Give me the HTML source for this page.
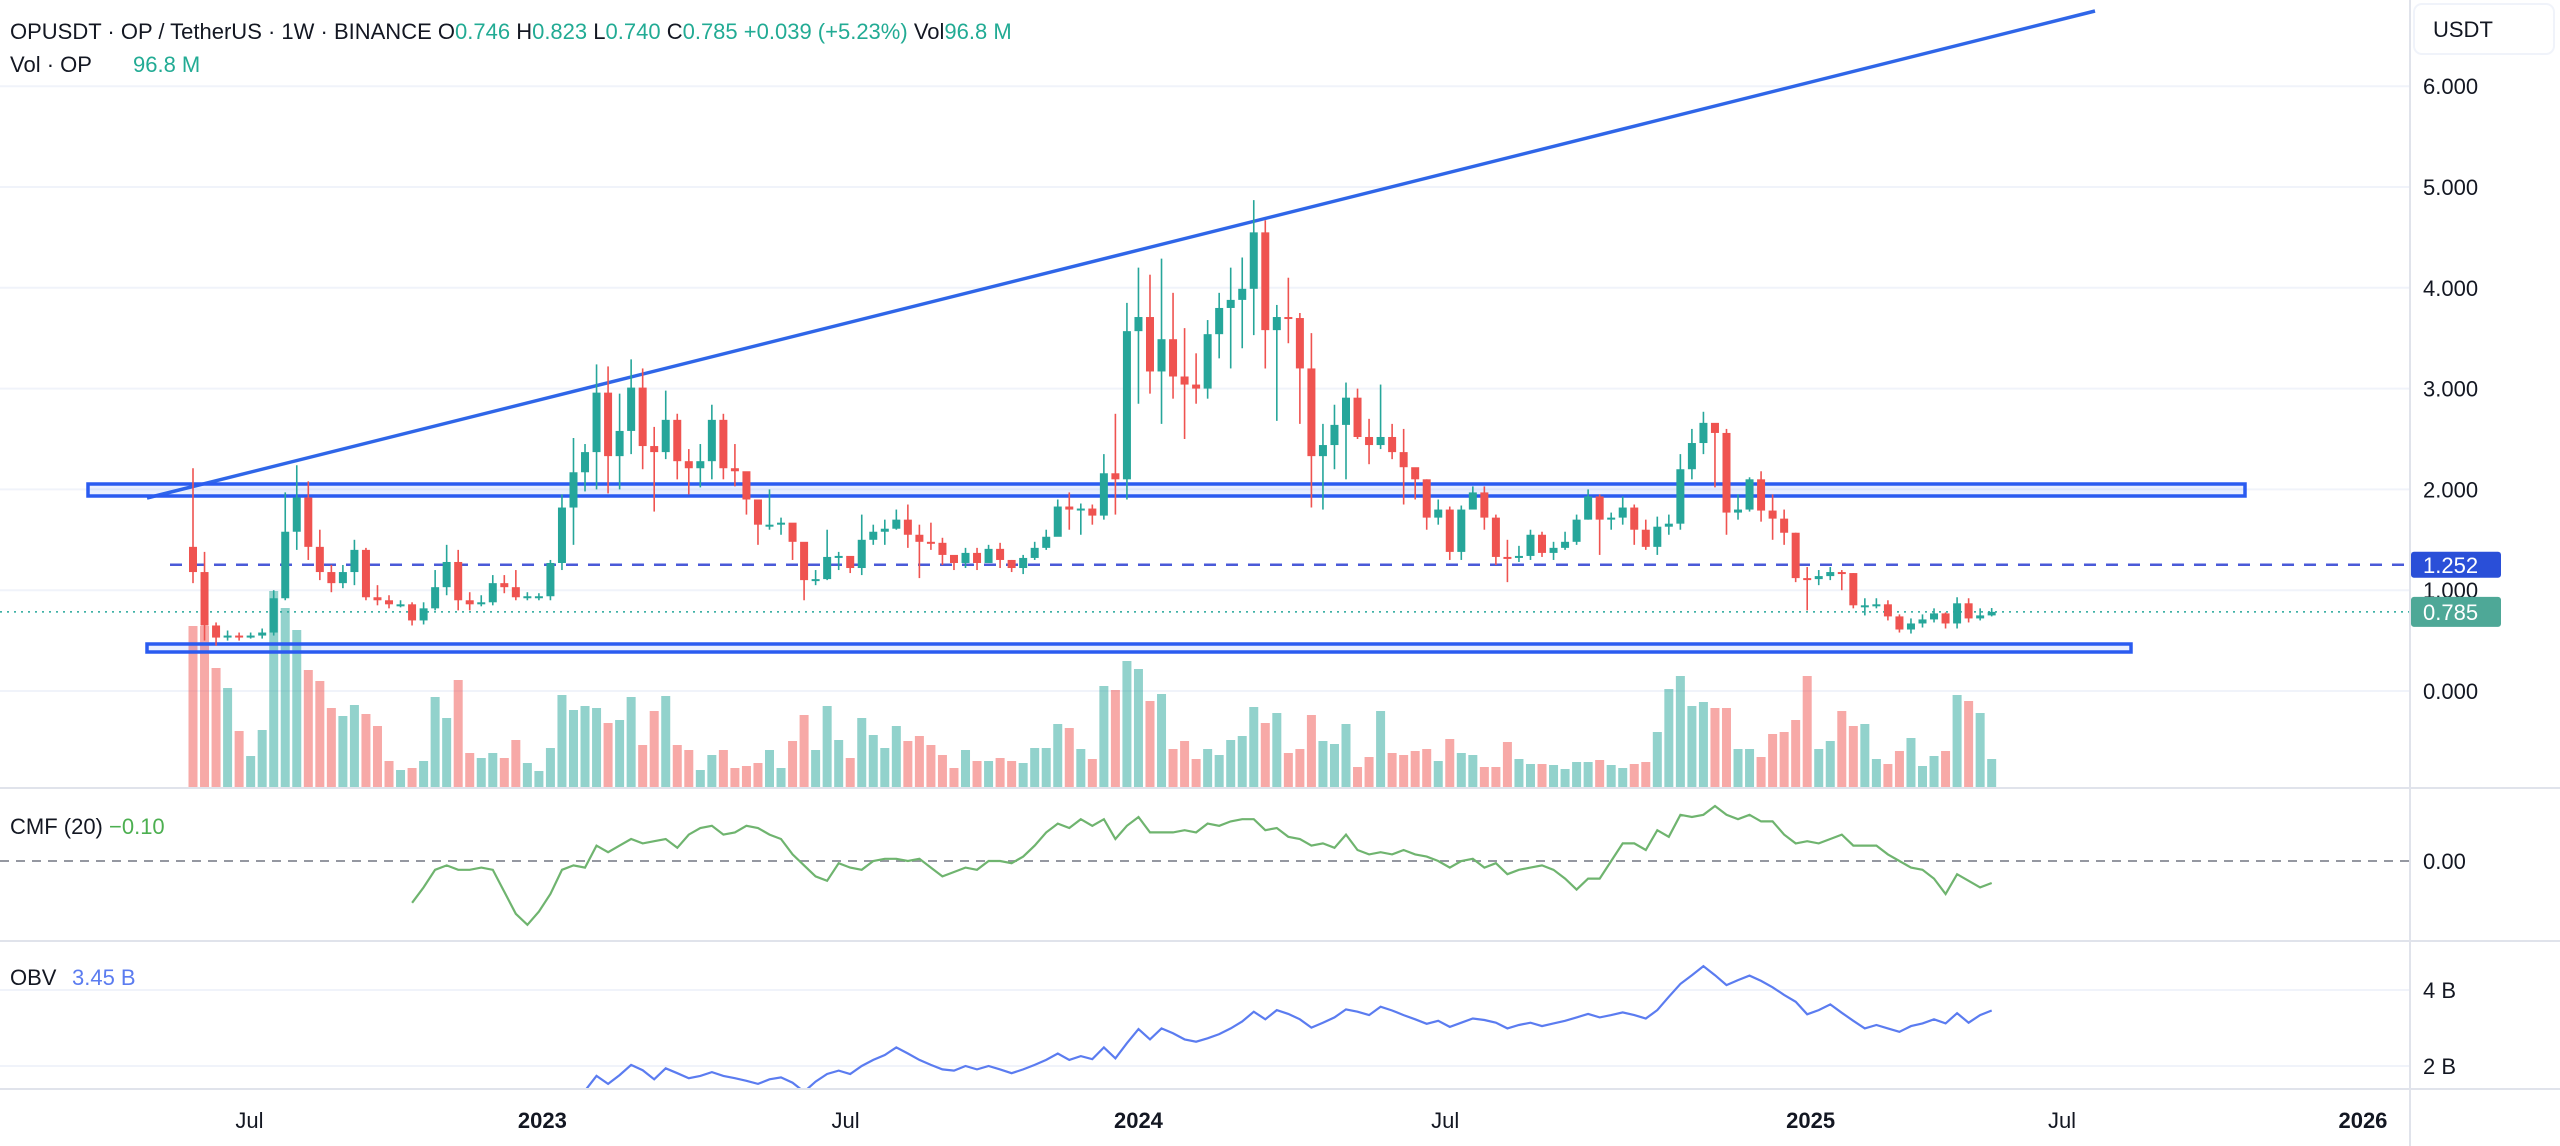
<!DOCTYPE html>
<html><head><meta charset="utf-8"><style>
html,body{margin:0;padding:0;background:#fff;width:2560px;height:1146px;overflow:hidden}
svg text{font-family:"Liberation Sans",sans-serif}
</style></head><body>
<svg id="chart" xmlns="http://www.w3.org/2000/svg" width="2560" height="1146" viewBox="0 0 2560 1146">
<defs>
<clipPath id="mainClip"><rect x="0" y="0" width="2410" height="788"/></clipPath>
<clipPath id="cmfClip"><rect x="0" y="789" width="2410" height="152"/></clipPath>
<clipPath id="obvClip"><rect x="0" y="942" width="2410" height="147"/></clipPath>
</defs>
<g id="grid"></g>
<g id="vol" clip-path="url(#mainClip)"></g>
<g id="draw"></g>
<g id="candles" clip-path="url(#mainClip)"></g>
<g id="ind"></g>
<g id="axes"></g>
<g id="labels">
<text x="10" y="39" font-size="22" fill="#131722">OPUSDT · OP / TetherUS · 1W · BINANCE <tspan fill="#131722">O</tspan><tspan fill="#22ab94">0.746</tspan> <tspan fill="#131722">H</tspan><tspan fill="#22ab94">0.823</tspan> <tspan fill="#131722">L</tspan><tspan fill="#22ab94">0.740</tspan> <tspan fill="#131722">C</tspan><tspan fill="#22ab94">0.785</tspan> <tspan fill="#22ab94">+0.039 (+5.23%)</tspan> <tspan fill="#131722">Vol</tspan><tspan fill="#22ab94">96.8 M</tspan></text>
<text x="10" y="72" font-size="22" fill="#131722">Vol · OP <tspan x="133" fill="#22ab94">96.8 M</tspan></text>
<text x="10" y="834" font-size="22" fill="#131722">CMF (20) <tspan fill="#4caf50">−0.10</tspan></text>
<text x="10" y="985" font-size="22" fill="#131722">OBV <tspan x="72" fill="#5b7cf0">3.45 B</tspan></text>
</g>
</svg>
<script>
const closes=[1.18,0.65,0.53,0.55,0.54,0.55,0.58,0.92,1.58,1.92,
1.43,1.18,1.07,1.18,1.40,0.93,0.90,0.86,0.86,0.70,
0.82,1.03,1.28,0.90,0.86,0.88,1.07,1.03,0.93,0.94,
0.94,1.27,1.82,2.17,2.37,2.96,2.33,2.58,3.01,2.43,
2.37,2.69,2.28,2.21,2.28,2.69,2.21,2.18,1.90,1.65,
1.65,1.67,1.48,1.10,1.11,1.33,1.34,1.22,1.50,1.58,
1.61,1.70,1.55,1.48,1.47,1.35,1.27,1.37,1.27,1.41,
1.30,1.22,1.32,1.42,1.53,1.83,1.80,1.81,1.74,2.16,
2.10,3.57,3.71,3.17,3.49,3.12,3.04,3.00,3.54,3.80,
3.88,3.99,4.55,3.58,3.71,3.70,3.20,2.33,2.44,2.64,
2.91,2.52,2.44,2.52,2.37,2.22,2.10,1.72,1.80,1.38,
1.80,1.97,1.72,1.33,1.32,1.34,1.55,1.37,1.42,1.48,
1.70,1.93,1.70,1.72,1.82,1.60,1.43,1.63,1.66,2.20,
2.46,2.66,2.56,1.77,1.80,2.10,1.79,1.71,1.57,1.12,
1.11,1.14,1.18,1.17,0.85,0.85,0.86,0.74,0.61,0.67,
0.71,0.77,0.67,0.87,0.72,0.75,0.785];
const firstOpen=1.43;
const highs=[2.21,1.38,0.68,0.60,0.58,0.58,0.62,1.0,1.97,2.24,
2.08,1.6,1.25,1.25,1.5,1.42,1.05,0.95,0.9,0.88,
0.88,1.2,1.45,1.4,0.98,0.95,1.15,1.15,1.2,0.98,
0.97,1.3,1.95,2.51,2.45,3.24,3.22,2.95,3.29,3.2,
2.62,2.98,2.75,2.4,2.45,2.84,2.75,2.45,2.0,1.75,
2.0,1.72,1.55,1.25,1.2,1.6,1.38,1.3,1.75,1.65,
1.7,1.8,1.85,1.65,1.67,1.52,1.33,1.42,1.42,1.45,
1.47,1.3,1.35,1.48,1.6,1.9,1.97,1.86,1.85,2.35,
2.75,3.85,4.2,4.13,4.29,3.95,3.6,3.35,3.68,3.95,
4.2,4.3,4.87,4.67,3.83,4.1,3.75,3.55,2.65,2.84,
3.06,3.0,2.7,3.04,2.65,2.6,2.2,2.1,1.9,1.83,
1.84,2.03,2.03,1.75,1.5,1.44,1.6,1.58,1.48,1.58,
1.75,2.0,1.95,1.77,1.93,1.85,1.7,1.73,1.75,2.35,
2.6,2.77,2.62,2.6,1.95,2.12,2.18,1.95,1.8,1.57,
1.23,1.2,1.23,1.2,1.17,0.92,0.92,0.9,0.76,0.72,
0.76,0.82,0.78,0.93,0.92,0.82,0.823];
const lows=[1.07,0.5,0.45,0.5,0.5,0.52,0.52,0.55,0.9,1.4,
1.3,1.1,0.98,1.02,1.05,0.9,0.85,0.82,0.83,0.65,
0.66,0.8,0.95,0.8,0.8,0.84,0.85,0.97,0.9,0.9,
0.9,0.9,1.2,1.45,1.98,2.0,1.96,2.0,2.35,2.2,
1.78,2.3,2.1,1.95,2.02,2.1,2.1,2.03,1.75,1.45,
1.6,1.55,1.3,0.9,1.05,1.1,1.2,1.17,1.15,1.45,
1.45,1.6,1.42,1.12,1.4,1.25,1.2,1.22,1.2,1.27,
1.22,1.18,1.16,1.3,1.4,1.55,1.6,1.55,1.65,1.7,
1.75,1.9,2.85,2.95,2.65,2.9,2.5,2.85,2.9,3.3,
3.2,3.4,3.53,3.2,2.68,3.45,2.65,1.82,1.8,2.2,
2.1,2.5,2.25,2.4,2.3,1.85,1.9,1.6,1.65,1.3,
1.3,1.85,1.6,1.25,1.08,1.28,1.3,1.33,1.3,1.4,
1.45,1.7,1.35,1.6,1.65,1.45,1.4,1.35,1.55,1.6,
2.1,2.35,2.02,1.55,1.7,1.78,1.68,1.5,1.45,1.08,
0.8,1.05,1.1,1.0,0.82,0.75,0.82,0.7,0.58,0.57,
0.63,0.68,0.62,0.62,0.68,0.7,0.74];
const volumes=[162,162,120,100,57,32,58,197,180,158,
118,107,80,72,83,74,62,27,18,20,
27,91,70,108,35,30,35,30,48,25,
17,40,93,78,82,80,65,68,91,43,
77,92,43,38,18,33,38,20,22,25,
38,20,47,73,38,82,48,30,70,53,
40,62,47,52,43,33,20,38,27,27,
30,27,25,40,40,
64,60,39,29,102,98,127,119,87,94,
39,47,29,39,33,48,52,81,65,75,
35,39,73,47,44,64,21,31,77,35,
33,37,39,27,49,35,33,21,21,46,
29,24,24,23,19,26,26,28,23,20,
24,26,56,99,112,82,86,80,80,39,
39,31,54,56,68,112,39,47,77,62,
64,29,24,37,50,22,32,37,93,87,75,29];
const cmfStart=20;
const cmfValues=[-0.19,-0.12,-0.04,-0.02,-0.04,-0.04,-0.03,-0.04,-0.14,-0.24,
-0.29,-0.23,-0.15,-0.04,-0.02,-0.03,0.07,0.04,0.07,0.10,
0.08,0.09,0.10,0.06,0.12,0.15,0.16,0.12,0.13,0.16,
0.15,0.12,0.10,0.03,-0.02,-0.07,-0.09,-0.01,-0.03,-0.04,
0.00,0.01,0.01,0.00,0.01,-0.03,-0.07,-0.05,-0.03,-0.04,
0.00,0.00,-0.01,0.02,0.07,0.13,0.17,0.15,0.19,0.16,
0.19,0.10,0.16,0.20,0.13,0.13,0.13,0.14,0.13,
0.17,0.16,0.18,0.19,0.19,0.14,0.15,0.11,0.10,0.07,
0.08,0.06,0.12,0.05,0.03,0.04,0.03,0.05,0.03,0.02,
0.00,-0.03,0.00,0.01,-0.03,-0.01,-0.06,-0.04,-0.03,-0.02,
-0.04,-0.08,-0.13,-0.08,-0.08,0.00,0.08,0.08,0.05,0.14,
0.11,0.21,0.20,0.21,0.25,0.21,0.19,0.21,0.18,0.18,
0.12,0.08,0.09,0.08,0.10,0.12,0.07,0.07,0.07,0.03,
0.00,-0.03,-0.04,-0.08,-0.15,-0.06,-0.09,-0.12,-0.10];
const obvValues=[0.2,-0.1,-0.4,-0.3,-0.35,-0.3,-0.2,0.5,1.0,1.35,
1.0,0.8,0.6,0.5,0.6,0.5,0.4,0.35,0.3,0.28,
0.25,0.4,0.5,0.3,0.25,0.3,0.4,0.35,0.3,0.3,
0.3,0.5,0.9,1.1,
1.35,1.74,1.53,1.76,2.03,1.89,1.65,1.94,1.81,1.68,
1.74,1.84,1.74,1.68,1.61,1.53,1.65,1.70,1.56,1.32,
1.59,1.79,1.88,1.79,2.0,2.16,2.29,2.49,2.33,2.16,
2.03,1.91,1.88,2.0,1.91,2.0,1.91,1.81,1.91,2.03,
2.16,2.33,2.16,2.26,2.18,2.49,2.20,2.60,2.97,2.70,
2.99,2.86,2.70,2.64,
2.73,2.84,2.99,3.17,3.43,3.23,3.47,3.37,3.23,3.01,
3.14,3.28,3.49,3.43,3.34,3.56,3.46,3.34,3.23,3.11,
3.19,3.03,3.14,3.25,3.21,3.14,2.99,3.08,3.14,3.05,
3.12,3.19,3.28,3.37,3.28,3.34,3.41,3.34,3.25,3.47,
3.82,4.16,4.39,4.63,4.39,4.13,4.26,4.38,4.24,4.07,
3.87,3.69,3.36,3.47,3.62,3.40,3.19,2.99,3.08,2.99,
2.90,3.05,3.12,3.23,3.12,3.39,3.14,3.34,3.46];
const priceTicks=[0,1,2,3,4,5,6];
const priceTickLabels=["0.000","1.000","2.000","3.000","4.000","5.000","6.000"];
const obvTicks=[2,4];
const obvTickLabels=["2 B","4 B"];
const timeLabels=["Jul","2023","Jul","2024","Jul","2025","Jul","2026"];
const timeLabelWeeks=[4.9,30.3,56.6,82.0,108.6,140.3,162.1,188.2];
const timeLabelBold=[false,true,false,true,false,true,false,true];
const lastPrice=0.785, lineLevel=1.252;

const NS="http://www.w3.org/2000/svg";
const X0=193, DX=11.53;
const xAt=i=>X0+i*DX;
const yP=p=>691-p*100.8;
const yV=v=>788-v*1.0;
const yC=v=>861-v*220;
const yO=b=>990-(b-4)*38;
function mk(tag,attrs,parent){const e=document.createElementNS(NS,tag);for(const k in attrs)e.setAttribute(k,attrs[k]);parent.appendChild(e);return e;}
const G=id=>document.getElementById(id);

const grid=G('grid'), axes=G('axes');
priceTicks.forEach((t,i)=>{
  const l=mk('line',{x1:0,x2:2410,y1:yP(t),y2:yP(t),stroke:'#f0f3fa','stroke-width':2},grid);
  
  
  const tx=mk('text',{x:2423,y:yP(t)+8,'font-size':22,fill:'#131722'},axes);
  tx.textContent=priceTickLabels[i];
  
  
});
obvTicks.forEach((t,i)=>{
  const l=mk('line',{x1:0,x2:2410,y1:yO(t),y2:yO(t),stroke:'#f0f3fa','stroke-width':2},grid);
  
  
  const tx=mk('text',{x:2423,y:yO(t)+8,'font-size':22,fill:'#131722'},axes);
  tx.textContent=obvTickLabels[i];
  
  
});
[788,941,1089].forEach(y=>{
  const l=mk('line',{x1:0,x2:2560,y1:y,y2:y,stroke:'#e0e3eb','stroke-width':2},axes);
  
  
});
const vs=mk('line',{x1:2410,x2:2410,y1:0,y2:1146,stroke:'#e0e3eb','stroke-width':2},axes);


const cz=mk('line',{x1:0,x2:2410,y1:yC(0),y2:yC(0),stroke:'#9598a1','stroke-width':2,'stroke-dasharray':'9 7'},grid);


const cl=mk('text',{x:2423,y:yC(0)+8,'font-size':22,fill:'#131722'},axes);
cl.textContent='0.00';


const ub=mk('rect',{x:2414,y:4,width:140,height:50,rx:8,fill:'#fff',stroke:'#f0f3fa','stroke-width':2},axes);


const ut=mk('text',{x:2433,y:37,'font-size':22,fill:'#131722'},axes);
ut.textContent='USDT';


timeLabels.forEach((s,i)=>{
  const t=mk('text',{x:xAt(timeLabelWeeks[i]),y:1128,'font-size':22,'text-anchor':'middle',fill:'#131722','font-weight':timeLabelBold[i]?'bold':'normal'},axes);
  t.textContent=s;
  
  
});

const volG=G('vol'), cG=G('candles');
closes.forEach((c,i)=>{
  const o=i===0?firstOpen:closes[i-1];
  const up=c>=o;
  const col=up?'#26a69a':'#ef5350';
  const x=xAt(i);
  const vb=mk('rect',{x:x-4.5,y:yV(volumes[i]),width:9,height:788-yV(volumes[i]),fill:col,'fill-opacity':0.5},volG);
  
  
  const w=mk('line',{x1:x,x2:x,y1:yP(highs[i]),y2:yP(lows[i]),stroke:col,'stroke-width':1.6},cG);
  
  
  const top=yP(Math.max(o,c)), bot=yP(Math.min(o,c));
  const b=mk('rect',{x:x-4,y:top,width:8,height:Math.max(2,bot-top),fill:col},cG);
  
  
});

const d=G('draw');
const ln=mk('line',{x1:147,y1:498,x2:2095,y2:11,stroke:'#2f66e8','stroke-width':3.5},d);


const r1=mk('rect',{x:88,y:484,width:2157,height:12,fill:'rgba(41,98,255,0.1)',stroke:'#2a5bf0','stroke-width':3.5},d);


const r2=mk('rect',{x:147,y:644,width:1984,height:8,fill:'rgba(41,98,255,0.1)',stroke:'#2a5bf0','stroke-width':3.5},d);


const hl=mk('line',{x1:170,x2:2410,y1:yP(lineLevel),y2:yP(lineLevel),stroke:'#4a5ad8','stroke-width':2.5,'stroke-dasharray':'12 10'},d);


const pl=mk('line',{x1:0,x2:2410,y1:yP(lastPrice),y2:yP(lastPrice),stroke:'#26a69a','stroke-width':1.5,'stroke-dasharray':'2 5'},d);


const hb=mk('rect',{x:2411,y:yP(lineLevel)-13,width:90,height:26,rx:3,fill:'#2a4fd8'},axes);


const ht=mk('text',{x:2423,y:yP(lineLevel)+8,'font-size':22,fill:'#fff'},axes);
ht.textContent=lineLevel.toFixed(3);


const lb=mk('rect',{x:2411,y:yP(lastPrice)-15,width:90,height:30,rx:3,fill:'#4ea897'},axes);


const lt=mk('text',{x:2423,y:yP(lastPrice)+8,'font-size':22,fill:'#fff'},axes);
lt.textContent=lastPrice.toFixed(3);



const ind=G('ind');
const cmfPts=cmfValues.map((v,i)=>xAt(cmfStart-1+i).toFixed(1)+','+yC(v).toFixed(1)).join(' ');
const cp=mk('polyline',{points:cmfPts,fill:'none',stroke:'#6fb46f','stroke-width':2.2,'clip-path':'url(#cmfClip)'},ind);


const obvPts=obvValues.map((v,i)=>xAt(i).toFixed(1)+','+yO(v).toFixed(1)).join(' ');
const op=mk('polyline',{points:obvPts,fill:'none',stroke:'#5b7cf0','stroke-width':2.2,'clip-path':'url(#obvClip)'},ind);


</script>
</body></html>
